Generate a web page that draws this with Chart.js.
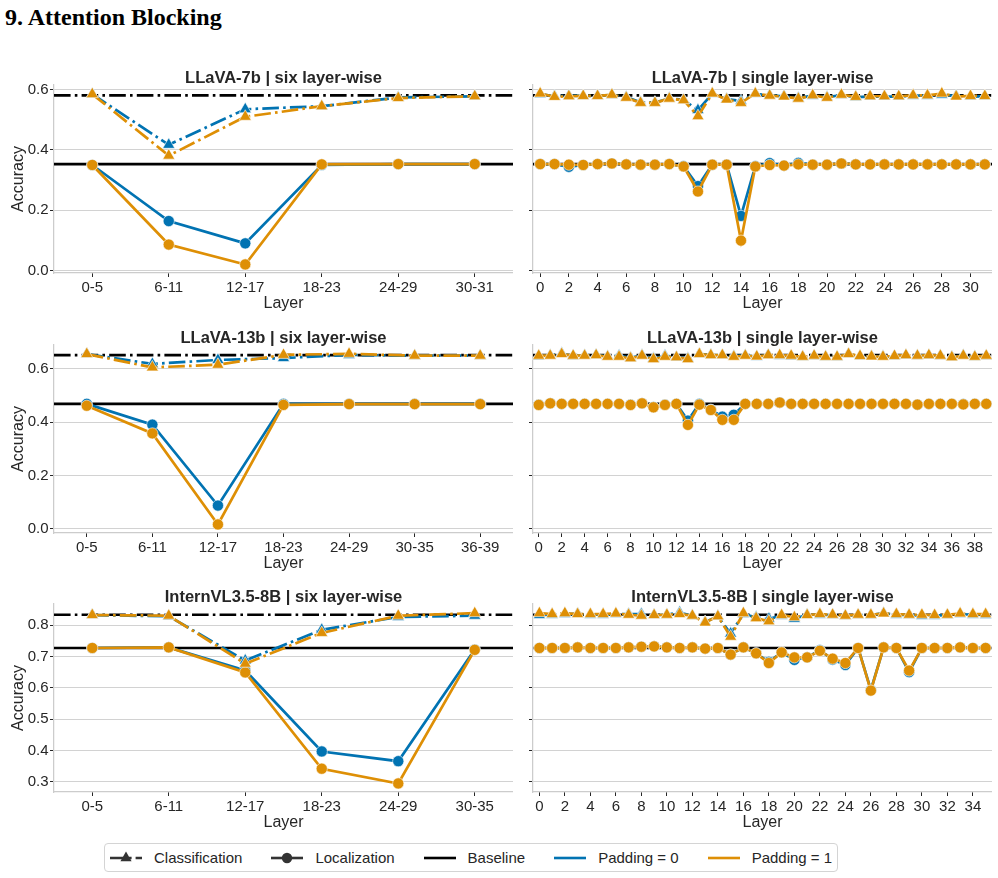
<!DOCTYPE html>
<html>
<head>
<meta charset="utf-8">
<script src="https://cdn.jsdelivr.net/npm/chart.js@4.4.1/dist/chart.umd.min.js"></script>
<style>
  body { margin: 0; background: #fff; width: 998px; height: 878px; position: relative; overflow: hidden; }
  h1 { position: absolute; left: 5px; top: 4px; margin: 0; line-height: 24px;
       font: bold 24px "Liberation Serif", "Times New Roman", serif; color: #000; }
  canvas { position: absolute; }
  #legend { position: absolute; left: 104px; top: 843px; width: 734px; height: 29px; box-sizing: border-box;
            border: 1px solid #d4d4d4; border-radius: 4px; display: flex; align-items: center; padding-left: 5px;
            font: 15px "Liberation Sans", Arial, sans-serif; color: #262626; white-space: nowrap; }
  #legend .item { display: flex; align-items: center; margin-right: 29px; flex-shrink: 0; }
  #legend svg { margin-right: 12px; flex-shrink: 0; }
</style>
</head>
<body>
<h1>9. Attention Blocking</h1>

<div id="legend">
  <span class="item"><svg width="32" height="14"><line x1="0" y1="7" x2="32" y2="7" stroke="#333" stroke-width="2.6" stroke-dasharray="15 4 2.6 4"/><polygon points="16,0.5 21.6,10.2 10.4,10.2" fill="#333"/></svg><span>Classification</span></span>
  <span class="item"><svg width="32" height="14"><line x1="0" y1="7" x2="32" y2="7" stroke="#333" stroke-width="2.6"/><circle cx="16" cy="7" r="5.2" fill="#333"/></svg><span>Localization</span></span>
  <span class="item"><svg width="32" height="14"><line x1="0" y1="7" x2="32" y2="7" stroke="#000" stroke-width="2.6"/></svg><span>Baseline</span></span>
  <span class="item"><svg width="32" height="14"><line x1="0" y1="7" x2="32" y2="7" stroke="#0173b2" stroke-width="2.6"/></svg><span>Padding = 0</span></span>
  <span class="item"><svg width="32" height="14"><line x1="0" y1="7" x2="32" y2="7" stroke="#de8f05" stroke-width="2.6"/></svg><span>Padding = 1</span></span>
</div>

<script>
// ---- LLaVA-7b ----
const groups7b = ["0-5", "6-11", "12-17", "18-23", "24-29", "30-31"];
const yTicks7b = [0.0, 0.2, 0.4, 0.6];
const layerTicks7b = [0, 2, 4, 6, 8, 10, 12, 14, 16, 18, 20, 22, 24, 26, 28, 30];
const baseCls7b = 0.581;
const baseLoc7b = 0.353;
const six7bClsPad0 = [0.585, 0.417, 0.535, 0.545, 0.574, 0.578];
const six7bClsPad1 = [0.585, 0.381, 0.510, 0.545, 0.572, 0.578];
const six7bLocPad0 = [0.350, 0.164, 0.090, 0.350, 0.353, 0.353];
const six7bLocPad1 = [0.350, 0.086, 0.020, 0.352, 0.353, 0.353];
const single7bClsPad0 = [0.585, 0.578, 0.580, 0.579, 0.580, 0.582, 0.575, 0.558, 0.557, 0.571, 0.566, 0.532, 0.586, 0.569, 0.562, 0.586,
                         0.581, 0.578, 0.572, 0.580, 0.575, 0.582, 0.575, 0.577, 0.577, 0.577, 0.580, 0.580, 0.583, 0.579, 0.577, 0.578];
const single7bClsPad1 = [0.587, 0.576, 0.578, 0.579, 0.579, 0.583, 0.573, 0.556, 0.556, 0.570, 0.565, 0.512, 0.587, 0.567, 0.556, 0.587,
                         0.580, 0.577, 0.570, 0.581, 0.573, 0.583, 0.576, 0.578, 0.578, 0.578, 0.581, 0.581, 0.587, 0.577, 0.579, 0.579];
const single7bLocPad0 = [0.353, 0.353, 0.344, 0.350, 0.353, 0.355, 0.352, 0.351, 0.351, 0.353, 0.346, 0.280, 0.351, 0.351, 0.181, 0.346,
                         0.356, 0.348, 0.357, 0.351, 0.351, 0.355, 0.352, 0.352, 0.352, 0.352, 0.352, 0.352, 0.352, 0.352, 0.352, 0.352];
const single7bLocPad1 = [0.353, 0.353, 0.351, 0.350, 0.353, 0.355, 0.352, 0.351, 0.351, 0.353, 0.345, 0.262, 0.351, 0.351, 0.099, 0.345,
                         0.350, 0.348, 0.352, 0.351, 0.351, 0.355, 0.352, 0.352, 0.352, 0.352, 0.352, 0.352, 0.352, 0.352, 0.352, 0.352];

// ---- LLaVA-13b ----
const groups13b = ["0-5", "6-11", "12-17", "18-23", "24-29", "30-35", "36-39"];
const yTicks13b = [0.0, 0.2, 0.4, 0.6];
const layerTicks13b = [0, 2, 4, 6, 8, 10, 12, 14, 16, 18, 20, 22, 24, 26, 28, 30, 32, 34, 36, 38];
const baseCls13b = 0.652;
const baseLoc13b = 0.469;
const six13bClsPad0 = [0.656, 0.619, 0.634, 0.641, 0.653, 0.650, 0.650];
const six13bClsPad1 = [0.656, 0.606, 0.616, 0.653, 0.657, 0.650, 0.650];
const six13bLocPad0 = [0.469, 0.391, 0.087, 0.469, 0.469, 0.469, 0.469];
const six13bLocPad1 = [0.462, 0.358, 0.016, 0.465, 0.468, 0.468, 0.468];
const single13bClsPad0 = [0.648, 0.651, 0.658, 0.649, 0.651, 0.653, 0.647, 0.650, 0.642, 0.652, 0.639, 0.650, 0.644, 0.639, 0.656, 0.653,
                          0.652, 0.648, 0.651, 0.646, 0.653, 0.650, 0.648, 0.646, 0.649, 0.646, 0.645, 0.656, 0.648, 0.647, 0.647, 0.648,
                          0.651, 0.650, 0.651, 0.650, 0.645, 0.651, 0.646, 0.649];
const single13bClsPad1 = [0.650, 0.650, 0.656, 0.650, 0.650, 0.652, 0.646, 0.646, 0.640, 0.650, 0.637, 0.646, 0.644, 0.637, 0.656, 0.652,
                          0.652, 0.646, 0.650, 0.647, 0.652, 0.652, 0.650, 0.646, 0.650, 0.646, 0.646, 0.656, 0.649, 0.647, 0.646, 0.649,
                          0.652, 0.650, 0.652, 0.650, 0.644, 0.650, 0.646, 0.650];
const single13bLocPad0 = [0.466, 0.471, 0.469, 0.469, 0.469, 0.469, 0.469, 0.469, 0.466, 0.471, 0.457, 0.466, 0.469, 0.406, 0.469, 0.447,
                          0.421, 0.428, 0.469, 0.469, 0.469, 0.474, 0.469, 0.469, 0.469, 0.469, 0.469, 0.469, 0.469, 0.469, 0.469, 0.469,
                          0.469, 0.466, 0.469, 0.469, 0.469, 0.468, 0.469, 0.469];
const single13bLocPad1 = [0.465, 0.471, 0.469, 0.469, 0.469, 0.469, 0.469, 0.469, 0.465, 0.471, 0.456, 0.465, 0.469, 0.390, 0.466, 0.446,
                          0.409, 0.409, 0.469, 0.469, 0.469, 0.474, 0.469, 0.469, 0.469, 0.469, 0.469, 0.469, 0.469, 0.469, 0.469, 0.469,
                          0.469, 0.466, 0.469, 0.469, 0.469, 0.467, 0.469, 0.469];

// ---- InternVL3.5-8B ----
const groupsIntern = ["0-5", "6-11", "12-17", "18-23", "24-29", "30-35"];
const yTicksIntern = [0.3, 0.4, 0.5, 0.6, 0.7, 0.8];
const layerTicksIntern = [0, 2, 4, 6, 8, 10, 12, 14, 16, 18, 20, 22, 24, 26, 28, 30, 32, 34];
const baseClsIntern = 0.833;
const baseLocIntern = 0.727;
const sixInternClsPad0 = [0.832, 0.828, 0.687, 0.785, 0.826, 0.830];
const sixInternClsPad1 = [0.832, 0.830, 0.677, 0.775, 0.830, 0.838];
const sixInternLocPad0 = [0.727, 0.729, 0.655, 0.397, 0.366, 0.722];
const sixInternLocPad1 = [0.727, 0.729, 0.649, 0.342, 0.295, 0.721];
const singleInternClsPad0 = [0.832, 0.833, 0.835, 0.836, 0.833, 0.833, 0.835, 0.835, 0.835, 0.832, 0.833, 0.840, 0.830, 0.810, 0.828, 0.773,
                             0.835, 0.825, 0.820, 0.830, 0.820, 0.833, 0.833, 0.832, 0.830, 0.832, 0.832, 0.838, 0.833, 0.832, 0.830, 0.830,
                             0.832, 0.835, 0.833, 0.832];
const singleInternClsPad1 = [0.838, 0.835, 0.838, 0.835, 0.835, 0.835, 0.837, 0.833, 0.830, 0.832, 0.833, 0.835, 0.830, 0.808, 0.828, 0.763,
                             0.838, 0.822, 0.812, 0.832, 0.825, 0.832, 0.835, 0.833, 0.830, 0.833, 0.833, 0.837, 0.835, 0.833, 0.833, 0.832,
                             0.833, 0.837, 0.835, 0.835];
const singleInternLocPad0 = [0.727, 0.727, 0.727, 0.729, 0.727, 0.727, 0.727, 0.729, 0.731, 0.732, 0.729, 0.727, 0.729, 0.725, 0.727, 0.706,
                             0.729, 0.710, 0.683, 0.713, 0.689, 0.697, 0.720, 0.690, 0.673, 0.727, 0.593, 0.729, 0.727, 0.650, 0.727, 0.727,
                             0.727, 0.729, 0.727, 0.727];
const singleInternLocPad1 = [0.727, 0.727, 0.727, 0.729, 0.727, 0.727, 0.727, 0.729, 0.731, 0.732, 0.729, 0.727, 0.729, 0.725, 0.727, 0.706,
                             0.729, 0.710, 0.679, 0.713, 0.697, 0.697, 0.718, 0.693, 0.679, 0.727, 0.591, 0.729, 0.727, 0.655, 0.727, 0.727,
                             0.727, 0.729, 0.727, 0.727];

const BLUE = "#0173b2";
const ORANGE = "#de8f05";
const INK = "#262626";
const DASHDOT = [16.6, 4.2, 2.6, 4.2];
const FONT = "'Liberation Sans', Arial, sans-serif";

Chart.defaults.font.family = FONT;
Chart.defaults.color = INK;

const TITLE_LH = 18;
const TITLE_PAD = -2;          // pulls the panel title a little closer to the axes
const TITLE_H = TITLE_LH + TITLE_PAD;
const X_H = 40;

function series(values, color, isCls, order) {
  return {
    data: values.map((v, i) => ({ x: i, y: v })),
    borderColor: color,
    backgroundColor: color,
    borderWidth: 2.7,
    borderDash: isCls ? DASHDOT : [],
    tension: 0,
    pointStyle: isCls ? "triangle" : "circle",
    pointRadius: isCls ? 7 : 5.6,
    pointBackgroundColor: color,
    pointBorderColor: "#ffffff",
    pointBorderWidth: 0.6,
    clip: false,
    order: order
  };
}

function baseline(value, n, isCls) {
  return {
    data: [{ x: -0.5, y: value }, { x: n - 0.5, y: value }],
    borderColor: "#000",
    borderWidth: 2.6,
    borderDash: isCls ? DASHDOT : [],
    pointRadius: 0,
    order: 10
  };
}

function yLimits(arrays) {
  const all = arrays.flat();
  const lo = Math.min(...all), hi = Math.max(...all);
  const pad = (hi - lo) * 0.05;
  return [lo - pad, hi + pad];
}

function panel(p) {
  const canvas = document.createElement("canvas");
  canvas.width = p.width;
  canvas.height = p.bottom - p.top + TITLE_H + X_H;
  canvas.style.left = p.left + "px";
  canvas.style.top = (p.top - TITLE_H) + "px";
  document.body.appendChild(canvas);

  const n = p.cls0.length;
  new Chart(canvas.getContext("2d"), {
    type: "line",
    data: {
      datasets: [
        baseline(p.baseCls, n, true),
        baseline(p.baseLoc, n, false),
        series(p.loc0, BLUE, false, 5),
        series(p.loc1, ORANGE, false, 4),
        series(p.cls0, BLUE, true, 3),
        series(p.cls1, ORANGE, true, 2)
      ]
    },
    options: {
      responsive: false,
      animation: false,
      layout: { padding: 0, autoPadding: false },
      plugins: {
        legend: { display: false },
        tooltip: { enabled: false },
        title: {
          display: true, text: p.title, fullSize: false, color: INK,
          padding: { top: 0, bottom: TITLE_PAD },
          font: { size: 16.5, weight: "bold", lineHeight: TITLE_LH + "px" }
        }
      },
      scales: {
        x: {
          type: "linear",
          min: -0.5,
          max: n - 0.5,
          afterBuildTicks: s => { s.ticks = p.xTicks.map(v => ({ value: v })); },
          afterFit: s => { s.height = X_H; },
          ticks: {
            callback: p.xLabel, color: INK, font: { size: 15 }, padding: 2,
            autoSkip: false, maxRotation: 0
          },
          grid: { drawOnChartArea: false, tickLength: 4, tickColor: INK, tickWidth: 1 },
          border: { color: "#cccccc", width: 1.25 },
          title: { display: true, text: "Layer", color: INK, font: { size: 16 }, padding: { top: 0, bottom: 0 } }
        },
        y: {
          type: "linear",
          min: p.yMin,
          max: p.yMax,
          afterBuildTicks: s => { s.ticks = p.yTicks.map(v => ({ value: v })); },
          afterFit: s => { s.width = p.yWidth; },
          ticks: {
            display: p.showY, callback: v => v.toFixed(1), color: INK, font: { size: 15 }, padding: 1.5
          },
          grid: { color: "#d2d2d2", lineWidth: 1, tickLength: 4, tickColor: INK, tickWidth: 1 },
          border: { color: "#cccccc", width: 1.25 },
          title: { display: p.showY, text: "Accuracy", color: INK, font: { size: 16 }, padding: { top: 9, bottom: 0 } }
        }
      }
    }
  });
}

const rows = [
  {
    top: 85, bottom: 273, yTicks: yTicks7b, baseCls: baseCls7b, baseLoc: baseLoc7b,
    six: { title: "LLaVA-7b | six layer-wise", labels: groups7b,
           cls0: six7bClsPad0, cls1: six7bClsPad1, loc0: six7bLocPad0, loc1: six7bLocPad1 },
    single: { title: "LLaVA-7b | single layer-wise", ticks: layerTicks7b,
              cls0: single7bClsPad0, cls1: single7bClsPad1, loc0: single7bLocPad0, loc1: single7bLocPad1 }
  },
  {
    top: 345, bottom: 533, yTicks: yTicks13b, baseCls: baseCls13b, baseLoc: baseLoc13b,
    six: { title: "LLaVA-13b | six layer-wise", labels: groups13b,
           cls0: six13bClsPad0, cls1: six13bClsPad1, loc0: six13bLocPad0, loc1: six13bLocPad1 },
    single: { title: "LLaVA-13b | single layer-wise", ticks: layerTicks13b,
              cls0: single13bClsPad0, cls1: single13bClsPad1, loc0: single13bLocPad0, loc1: single13bLocPad1 }
  },
  {
    top: 604, bottom: 792, yTicks: yTicksIntern, baseCls: baseClsIntern, baseLoc: baseLocIntern,
    six: { title: "InternVL3.5-8B | six layer-wise", labels: groupsIntern,
           cls0: sixInternClsPad0, cls1: sixInternClsPad1, loc0: sixInternLocPad0, loc1: sixInternLocPad1 },
    single: { title: "InternVL3.5-8B | single layer-wise", ticks: layerTicksIntern,
              cls0: singleInternClsPad0, cls1: singleInternClsPad1, loc0: singleInternLocPad0, loc1: singleInternLocPad1 }
  }
];

rows.forEach(r => {
  const s = r.six, g = r.single;
  // shared y range per row, like sharey
  const [yMin, yMax] = yLimits([s.cls0, s.cls1, s.loc0, s.loc1, g.cls0, g.cls1, g.loc0, g.loc1]);
  const common = { top: r.top, bottom: r.bottom, yMin, yMax, yTicks: r.yTicks, baseCls: r.baseCls, baseLoc: r.baseLoc };

  panel(Object.assign({}, common, s, {
    left: 0, width: 513, yWidth: 54, showY: true,
    xTicks: s.labels.map((_, i) => i),
    xLabel: v => s.labels[v]
  }));
  panel(Object.assign({}, common, g, {
    left: 515, width: 477, yWidth: 18, showY: false,
    xTicks: g.ticks,
    xLabel: v => String(v)
  }));
});
</script>
</body>
</html>
